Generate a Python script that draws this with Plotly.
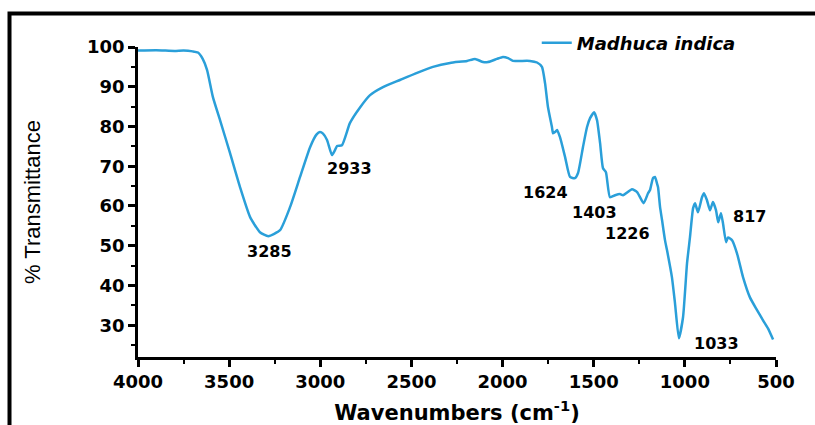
import plotly.graph_objects as go

wavenumber = [4000, 3900, 3800, 3750, 3700, 3671, 3645, 3621, 3589, 3550, 3495, 3440, 3385, 3331, 3285,
              3221, 3166, 3111, 3056, 3020, 3002, 2985, 2963, 2936, 2920, 2908, 2881, 2837, 2782, 2727,
              2656, 2563, 2469, 2382, 2288, 2195, 2151, 2107, 2080, 2031, 1998, 1970, 1943, 1904, 1850,
              1811, 1784, 1767, 1751, 1729, 1723, 1712, 1701, 1685, 1657, 1630, 1603, 1586, 1559, 1537,
              1520, 1498, 1482, 1465, 1449, 1433, 1411, 1383, 1356, 1339, 1290, 1262, 1226, 1202, 1191,
              1175, 1164, 1153, 1147, 1136, 1125, 1109, 1098, 1071, 1054, 1033, 1010, 988, 972, 955,
              944, 928, 906, 895, 879, 862, 846, 829, 817, 802, 791, 774, 763, 741, 714,
              681, 643, 604, 571, 544, 516]
transmittance = [99.1, 99.2, 99.0, 99.1, 98.9, 98.6, 97.0, 94.2, 87.4, 81.6, 73.3, 64.7, 57.2, 53.4, 52.4,
                 53.9, 59.7, 67.3, 74.8, 78.0, 78.6, 78.2, 76.6, 72.8, 74.0, 75.1, 75.3, 80.9, 84.8, 87.9,
                 89.9, 91.7, 93.5, 95.0, 96.0, 96.5, 97.0, 96.2, 96.2, 97.0, 97.5, 97.2, 96.5, 96.5, 96.5,
                 96.1, 95.0, 90.9, 84.9, 79.8, 78.3, 78.6, 79.1, 77.3, 72.3, 67.3, 67.0, 68.3, 74.8, 79.8,
                 82.1, 83.6, 81.6, 75.8, 69.5, 68.5, 62.2, 62.7, 63.0, 62.7, 64.2, 63.5, 60.7, 63.2, 64.0,
                 67.0, 67.3, 65.7, 64.7, 59.7, 56.4, 51.4, 48.9, 42.1, 35.5, 26.7, 32.0, 45.6, 52.1, 59.4,
                 60.7, 58.4, 62.2, 63.2, 61.5, 58.9, 61.0, 58.9, 55.9, 58.2, 55.7, 50.9, 52.1, 51.4, 48.1,
                 42.1, 37.0, 33.8, 31.2, 29.2, 26.4]

peak_labels = ["3285", "2933", "1624", "1403", "1226", "817", "1033"]
peak_label_x = [3276, 2842, 1767, 1493, 1317, 643, 824]
peak_label_y = [48.6, 69.5, 63.5, 58.4, 53.1, 57.4, 25.4]

x_tickvals = [4000, 3500, 3000, 2500, 2000, 1500, 1000, 500]
y_tickvals = [30, 40, 50, 60, 70, 80, 90, 100]

color = "#2a9fd9"
bold = dict(family="DejaVu Sans", weight="bold", color="black")

fig = go.Figure()
fig.add_trace(go.Scatter(
    x=wavenumber, y=transmittance, mode="lines", name="<i>Madhuca indica</i>",
    line=dict(color=color, width=2.5, shape="spline", smoothing=0.5),
))

for t, xv, yv in zip(peak_labels, peak_label_x, peak_label_y):
    fig.add_annotation(x=xv, y=yv, text=t, showarrow=False, xref="x", yref="y",
                       font=dict(size=16, **bold))

fig.add_shape(type="rect", xref="paper", yref="paper",
              x0=-0.2014, x1=1.08, y0=-0.25, y1=1.108,
              line=dict(color="black", width=4), layer="above")

fig.update_layout(
    width=815, height=425,
    margin=dict(l=138, r=39, t=47, b=68),
    paper_bgcolor="white", plot_bgcolor="white",
    showlegend=True,
    legend=dict(x=0.625, y=1.013, xanchor="left", yanchor="middle",
                bgcolor="rgba(0,0,0,0)", font=dict(size=18, **bold)),
    xaxis=dict(
        range=[4000, 500], tickvals=x_tickvals, ticktext=[str(v) for v in x_tickvals],
        showgrid=False, zeroline=False, showline=True, linecolor="black", linewidth=2.5,
        ticks="outside", ticklen=7, tickwidth=2.5, tickcolor="black",
        minor=dict(dtick=250, ticks="outside", ticklen=4, tickwidth=2, tickcolor="black", showgrid=False),
        tickfont=dict(size=18, **bold),
        title=dict(text="Wavenumbers (cm<sup>-1</sup>)", font=dict(size=21, **bold), standoff=14),
        automargin=False,
    ),
    yaxis=dict(
        range=[22, 100], tickvals=y_tickvals, ticktext=[str(v) for v in y_tickvals],
        showgrid=False, zeroline=False, showline=True, linecolor="black", linewidth=2.5,
        ticks="outside", ticklen=7, tickwidth=2.5, tickcolor="black",
        minor=dict(dtick=5, ticks="outside", ticklen=4, tickwidth=2, tickcolor="black", showgrid=False),
        tickfont=dict(size=18, **bold),
        title=dict(text="% Transmittance", font=dict(size=22, family="Liberation Sans", color="black"), standoff=41),
        automargin=False,
    ),
)

fig.write_html("out.html", config={"displayModeBar": False},
               post_script="document.body.style.margin='0';")
